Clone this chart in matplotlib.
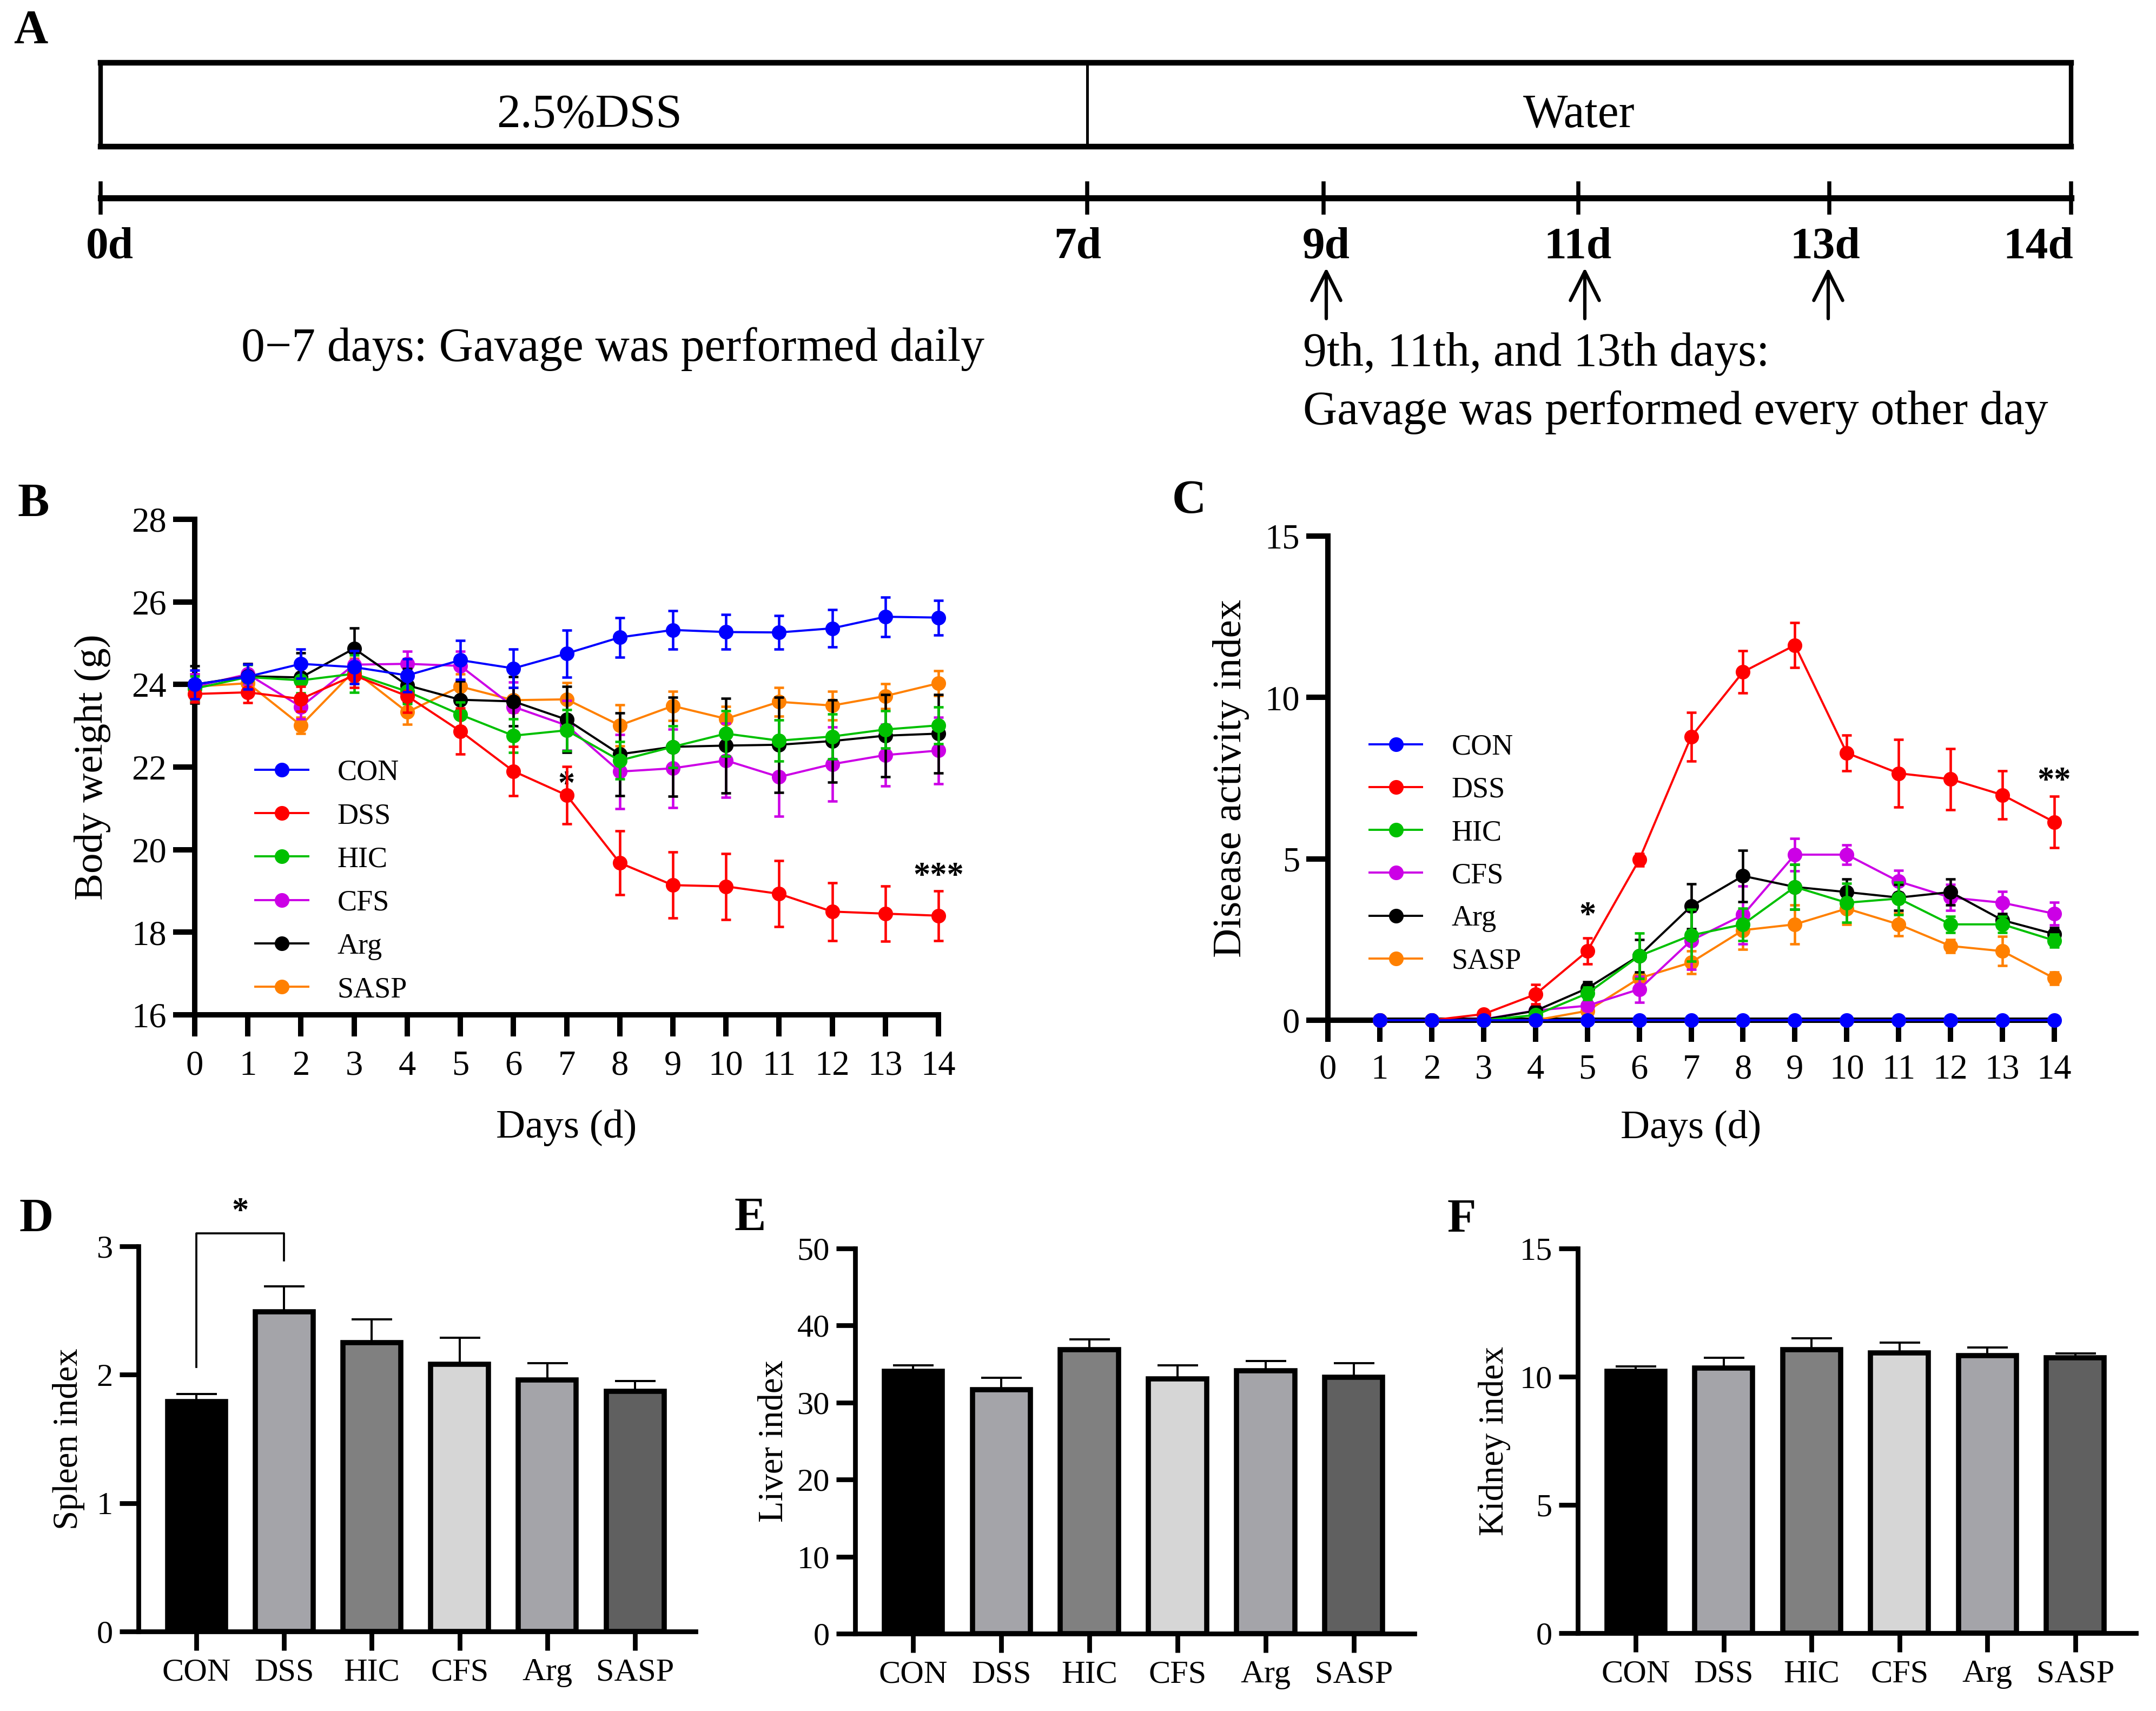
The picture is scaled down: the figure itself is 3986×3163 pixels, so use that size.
import matplotlib
matplotlib.use("Agg")
import matplotlib.pyplot as plt
import numpy as np

plt.rcParams['font.family'] = ['Liberation Serif', 'DejaVu Serif']

W, H = 3986, 3163
DPI = 300

# ---------------- data ----------------
groups = ['CON', 'DSS', 'HIC', 'CFS', 'Arg', 'SASP']
line_colors = ['#0000ff', '#ff0000', '#00c000', '#cc00e6', '#000000', '#ff8000']

days_bw = list(range(15))
bw_con = [24.0, 24.19, 24.5, 24.42, 24.22, 24.59, 24.39, 24.75, 25.14, 25.32, 25.27, 25.26, 25.36, 25.64, 25.62]
bw_dss = [23.77, 23.81, 23.65, 24.22, 23.72, 22.87, 21.90, 21.32, 19.68, 19.14, 19.11, 18.93, 18.50, 18.45, 18.40]
bw_hic = [23.9, 24.18, 24.1, 24.26, 23.83, 23.27, 22.76, 22.89, 22.16, 22.49, 22.81, 22.64, 22.74, 22.91, 23.01]
bw_cfs = [23.95, 24.25, 23.46, 24.48, 24.5, 24.45, 23.46, 23.01, 21.89, 21.97, 22.16, 21.76, 22.07, 22.29, 22.4]
bw_arg = [24.0, 24.2, 24.17, 24.87, 23.98, 23.63, 23.59, 23.15, 22.31, 22.49, 22.52, 22.54, 22.63, 22.76, 22.81]
bw_sasp = [23.95, 24.03, 23.01, 24.33, 23.33, 23.95, 23.62, 23.64, 23.01, 23.48, 23.17, 23.58, 23.49, 23.72, 24.03]

bw_con_err = [0.35, 0.3, 0.35, 0.4, 0.4, 0.47, 0.46, 0.57, 0.48, 0.47, 0.42, 0.41, 0.45, 0.48, 0.42]
bw_dss_err = [0.2, 0.25, 0.3, 0.3, 0.4, 0.56, 0.6, 0.69, 0.77, 0.8, 0.8, 0.8, 0.7, 0.67, 0.6]
bw_hic_err = [0.3, 0.3, 0.3, 0.45, 0.3, 0.3, 0.4, 0.5, 0.45, 0.5, 0.55, 0.5, 0.55, 0.45, 0.45]
bw_cfs_err = [0.3, 0.25, 0.3, 0.3, 0.3, 0.35, 0.6, 0.6, 0.9, 0.95, 0.9, 0.95, 0.9, 0.75, 0.8]
bw_arg_err = [0.45, 0.3, 0.6, 0.5, 0.4, 0.45, 0.6, 0.8, 1.0, 1.2, 1.15, 1.15, 1.0, 1.0, 0.95]
bw_sasp_err = [0.3, 0.25, 0.2, 0.3, 0.3, 0.3, 0.3, 0.4, 0.5, 0.35, 0.3, 0.35, 0.35, 0.3, 0.3]

days_dai = list(range(1, 15))
dai_con = [0] * 14
dai_dss = [0, 0, 0.19, 0.8, 2.14, 4.97, 8.78, 10.79, 11.62, 8.28, 7.65, 7.47, 6.98, 6.14]
dai_hic = [0, 0, 0, 0.16, 0.83, 1.99, 2.63, 2.97, 4.13, 3.64, 3.77, 2.97, 2.97, 2.47]
dai_cfs = [0, 0, 0.03, 0.3, 0.45, 0.96, 2.47, 3.26, 5.13, 5.13, 4.3, 3.8, 3.64, 3.3]
dai_arg = [0, 0, 0.02, 0.29, 0.99, 2.0, 3.53, 4.47, 4.13, 3.97, 3.8, 3.97, 3.1, 2.67]
dai_sasp = [0, 0, 0, 0, 0.29, 1.3, 1.79, 2.79, 2.97, 3.46, 2.97, 2.3, 2.14, 1.3]

dai_con_err = [0] * 14
dai_dss_err = [0, 0, 0.1, 0.3, 0.4, 0.2, 0.75, 0.65, 0.7, 0.55, 1.05, 0.95, 0.75, 0.8]
dai_hic_err = [0, 0, 0, 0.1, 0.2, 0.7, 0.8, 0.5, 0.7, 0.6, 0.5, 0.25, 0.25, 0.2]
dai_cfs_err = [0, 0, 0, 0.1, 0.15, 0.4, 0.9, 0.9, 0.5, 0.3, 0.35, 0.4, 0.35, 0.35]
dai_arg_err = [0, 0, 0, 0.1, 0.2, 0.5, 0.7, 0.8, 0.7, 0.4, 0.4, 0.4, 0.2, 0.2]
dai_sasp_err = [0, 0, 0, 0, 0.1, 0.15, 0.35, 0.6, 0.6, 0.5, 0.35, 0.2, 0.45, 0.2]

spleen_mean = [1.79, 2.49, 2.25, 2.08, 1.96, 1.87]
spleen_err = [0.06, 0.20, 0.18, 0.21, 0.13, 0.08]
liver_mean = [34.05, 31.7, 36.87, 33.1, 34.1, 33.26]
liver_err = [0.75, 1.5, 1.33, 1.7, 1.3, 1.84]
kidney_mean = [10.21, 10.33, 11.06, 10.92, 10.83, 10.74]
kidney_err = [0.2, 0.41, 0.43, 0.41, 0.30, 0.16]
bar_colors = ['#000000', '#a4a4a9', '#808080', '#d6d6d6', '#a4a4a9', '#606060']

timeline_labels = ['0d', '7d', '9d', '11d', '13d', '14d']
gavage_labels = ['9d', '11d', '13d']

# ---------------- helpers ----------------
def rect(l, t, r, b):
    return [l / W, 1 - b / H, (r - l) / W, (b - t) / H]


def style_axes(ax, spine_w, tick_len, tick_w, labelsize, xpad, ypad):
    for s in ['top', 'right']:
        ax.spines[s].set_visible(False)
    for s in ['left', 'bottom']:
        ax.spines[s].set_linewidth(spine_w)
        ax.spines[s].set_capstyle('projecting')
    ax.tick_params(axis='both', direction='out', length=tick_len, width=tick_w,
                   labelsize=labelsize, colors='black')
    ax.tick_params(axis='x', pad=xpad)
    ax.tick_params(axis='y', pad=ypad)


fig = plt.figure(figsize=(W / DPI, H / DPI), dpi=DPI)

# ---------------- panel A (schematic) ----------------
axA = fig.add_axes([0, 1 - 880 / H, 1, 880 / H])
axA.set_xlim(0, W)
axA.set_ylim(880, 0)
axA.axis('off')
bx0, bx1, by0, by1, bdiv = 186, 3829, 116, 271, 2010
axA.plot([bx0, bx1], [by0, by0], color='k', lw=2.5, solid_capstyle='projecting')
axA.plot([bx0, bx1], [by1, by1], color='k', lw=2.5, solid_capstyle='projecting')
axA.plot([bx0, bx0], [by0, by1], color='k', lw=2.0)
axA.plot([bx1, bx1], [by0, by1], color='k', lw=2.0)
axA.plot([bdiv, bdiv], [by0, by1], color='k', lw=1.2)
axA.text(1090, 213, '2.5%DSS', fontsize=21, ha='center', va='center')
axA.text((bdiv + bx1) / 2, 213, 'Water', fontsize=21, ha='center', va='center')

tick_x = [186, 2010, 2447, 2918, 3382, 3829]
label_x = [203, 1992, 2452, 2917, 3374, 3768]
axA.plot([tick_x[0], tick_x[-1]], [366, 366], color='k', lw=2.7)
for tx, lx, lab in zip(tick_x, label_x, timeline_labels):
    axA.plot([tx, tx], [339, 393], color='k', lw=1.8)
    axA.text(lx, 457, lab, fontsize=20, fontweight='bold', ha='center', va='center')

arrow_x = [2452, 2930, 3380]
for ax_, lab in zip(arrow_x, gavage_labels):
    axA.annotate('', xy=(ax_, 495), xytext=(ax_, 589),
                 arrowprops=dict(arrowstyle='->', lw=1.5, mutation_scale=32, color='k',
                                 shrinkA=0, shrinkB=0))

axA.text(1133, 645, '0\u22127 days: Gavage was performed daily', fontsize=21,
         ha='center', va='center')
axA.text(2409, 655, '9th, 11th, and 13th days:', fontsize=21, ha='left', va='center')
axA.text(2409, 762, 'Gavage was performed every other day', fontsize=21,
         ha='left', va='center')

# ---------------- panel B ----------------
axB = fig.add_axes(rect(360, 960, 1735, 1876))
bw_means = [bw_con, bw_dss, bw_hic, bw_cfs, bw_arg, bw_sasp]
bw_errs = [bw_con_err, bw_dss_err, bw_hic_err, bw_cfs_err, bw_arg_err, bw_sasp_err]
handlesB = [None] * 6
zorders = [8, 7, 6, 4, 5, 3]
for i in range(6):
    eb = axB.errorbar(days_bw, bw_means[i], yerr=bw_errs[i], color=line_colors[i],
                      marker='o', ms=5.5, lw=0.95, elinewidth=1.1, capsize=2.2,
                      capthick=1.1, clip_on=False, zorder=zorders[i])
    for art in eb.lines[1] + eb.lines[2]:
        art.set_clip_on(False)
    handlesB[i] = eb.lines[0]
axB.set_xlim(0, 14)
axB.set_ylim(16, 28)
axB.set_xticks(days_bw)
axB.set_yticks(np.arange(16, 29, 2))
style_axes(axB, 2.4, 9.5, 2.4, 15.5, 6.2, 3)
axB.set_ylabel('Body weight (g)', fontsize=18)
axB.set_xlabel('Days (d)', fontsize=18)
axB.yaxis.set_label_coords(-0.113, 0.5)
axB.xaxis.set_label_coords(0.5, -0.191)
axB.text(7, 21.54, '*', fontsize=15, fontweight='bold', ha='center', va='center')
axB.text(14, 19.33, '***', fontsize=15, fontweight='bold', ha='center', va='center')
axB.legend(handles=handlesB, labels=groups, loc='upper left',
           bbox_to_anchor=(0.0815, 0.516), frameon=False, fontsize=13,
           handlelength=1.8, handletextpad=1.0, labelspacing=0.55,
           borderpad=0, borderaxespad=0)

# ---------------- panel C ----------------
axC = fig.add_axes(rect(2455, 991, 3798, 1886))
dai_means = [dai_con, dai_dss, dai_hic, dai_cfs, dai_arg, dai_sasp]
dai_errs = [dai_con_err, dai_dss_err, dai_hic_err, dai_cfs_err, dai_arg_err, dai_sasp_err]
handlesC = [None] * 6
for i in range(6):
    eb = axC.errorbar(days_dai, dai_means[i], yerr=dai_errs[i], color=line_colors[i],
                      marker='o', ms=5.5, lw=0.95, elinewidth=1.1, capsize=2.2,
                      capthick=1.1, clip_on=False, zorder=zorders[i])
    for art in eb.lines[1] + eb.lines[2]:
        art.set_clip_on(False)
    handlesC[i] = eb.lines[0]
axC.set_xlim(0, 14)
axC.set_ylim(0, 15)
axC.set_xticks(range(15))
axC.set_yticks([0, 5, 10, 15])
style_axes(axC, 2.4, 9.5, 2.4, 15.5, 5.5, 3)
axC.set_ylabel('Disease activity index', fontsize=18)
axC.set_xlabel('Days (d)', fontsize=18)
axC.yaxis.set_label_coords(-0.108, 0.5)
axC.xaxis.set_label_coords(0.5, -0.185)
axC.text(5, 3.2, '*', fontsize=15, fontweight='bold', ha='center', va='center')
axC.text(14, 7.37, '**', fontsize=15, fontweight='bold', ha='center', va='center')
axC.legend(handles=handlesC, labels=groups, loc='upper left',
           bbox_to_anchor=(0.0573, 0.592), frameon=False, fontsize=13,
           handlelength=1.8, handletextpad=1.0, labelspacing=0.53,
           borderpad=0, borderaxespad=0)

# ---------------- panels D, E, F ----------------
def bar_panel(r, means, errs, ylim, yticks, ylabel, ylab_x):
    ax = fig.add_axes(rect(*r))
    x = np.arange(len(groups))
    ax.bar(x, means, width=0.66, color=bar_colors, edgecolor='black', linewidth=2.3,
           yerr=[[0] * len(errs), errs], capsize=9,
           error_kw=dict(elinewidth=0.95, capthick=0.95, ecolor='black', zorder=0.5))
    ax.set_xlim(-0.66, 5.69)
    ax.set_ylim(*ylim)
    ax.set_yticks(yticks)
    ax.set_xticks(x)
    ax.set_xticklabels(groups)
    style_axes(ax, 2.1, 8.3, 2.1, 14.5, 3.5, 3)
    ax.set_ylabel(ylabel, fontsize=15.5)
    ax.yaxis.set_label_coords(ylab_x, 0.5)
    return ax

axD = bar_panel((256, 2304, 1286, 3016), spleen_mean, spleen_err, (0, 3), [0, 1, 2, 3],
                'Spleen index', -0.096)
# significance bracket CON vs DSS
axD.plot([0, 0, 1, 1], [2.06, 3.1, 3.1, 2.89], color='black', lw=0.9, clip_on=False)
axD.text(0.5, 3.26, '*', fontsize=15, fontweight='bold', ha='center', va='center')

axE = bar_panel((1581, 2308, 2615, 3020), liver_mean, liver_err, (0, 50),
                [0, 10, 20, 30, 40, 50], 'Liver index', -0.116)
axF = bar_panel((2917, 2308, 3949, 3019), kidney_mean, kidney_err, (0, 15),
                [0, 5, 10, 15], 'Kidney index', -0.120)

# ---------------- panel letters ----------------
for lab, (px, py) in zip(['A', 'B', 'C', 'D', 'E', 'F'],
                         [(57, 57), (62, 932), (2198, 926), (67, 2254), (1387, 2252), (2702, 2255)]):
    fig.text(px / W, 1 - py / H, lab, fontsize=21, fontweight='bold', ha='center', va='center')

fig.savefig('out.png', dpi=DPI)
